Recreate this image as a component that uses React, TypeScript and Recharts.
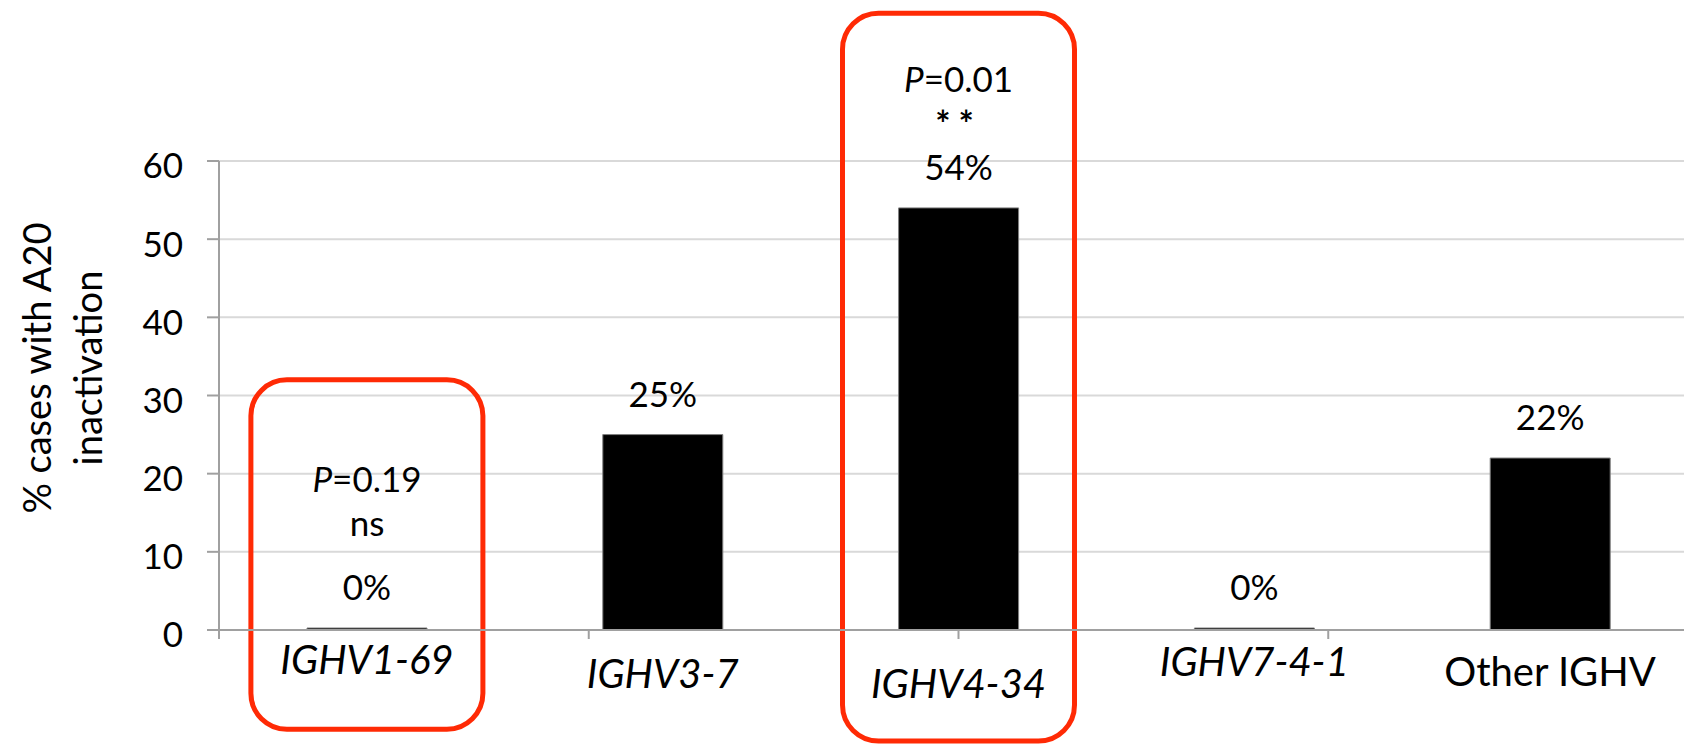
import { BarChart, Bar, XAxis, YAxis, CartesianGrid, LabelList, ReferenceArea } from 'recharts';

const categories = ['IGHV1-69', 'IGHV3-7', 'IGHV4-34', 'IGHV7-4-1', 'Other IGHV'];
const values = [0, 25, 54, 0, 22];
const pValues = ['0.19', '', '0.01', '', ''];
const significance = ['ns', '', '**', '', ''];
const yTicks = [0, 10, 20, 30, 40, 50, 60];
const boundaryTicks = [0, 1, 2, 3, 4, 5];
const highlighted = ['IGHV1-69', 'IGHV4-34'];

const data = categories.map((name, i) => ({ name, value: values[i] }));

// layout
const FONT = 'Lato, "Open Sans", sans-serif';
const AXIS = '#a0a0a0';
const RED = '#ff2a05';
const BOX_WIDTH = 232;
const TITLE_CY = 368;
const boxBottom = [-12.7, -14.2];
const boxTop = [32, 78.9];
const tickBaseline = [44, 58, 68, 46, 56];
const sigGap = [64, 0, 43, 0, 0];

function CategoryTick(props: any) {
  const { x, y, payload } = props;
  const name = payload.value as string;
  const i = categories.indexOf(name);
  return (
    <text
      x={x}
      y={y + tickBaseline[i]}
      textAnchor="middle"
      fontSize={40}
      fontFamily={FONT}
      fontStyle={name.startsWith('IGHV') ? 'italic' : 'normal'}
      fill="#000"
    >
      {name}
    </text>
  );
}

// value label, with the test result stacked above it where there is one
function ValueLabel(props: any) {
  const { x, y, width, index, value } = props;
  const cx = x + width / 2;
  const base = y - 28;
  const sig = significance[index];
  const stars = sig === '**';
  const sigY = base - sigGap[index];
  const pY = stars ? base - 88 : sigY - 44;
  return (
    <text x={cx} y={base} textAnchor="middle" fontSize={35} fontFamily={FONT} fill="#000">
      {pValues[index] && (
        <tspan x={cx} y={pY}>
          <tspan fontStyle="italic">P</tspan>={pValues[index]}
        </tspan>
      )}
      {sig && (
        <tspan
          x={cx}
          y={sigY}
          fontSize={stars ? 36 : 35}
          fontWeight={stars ? 'bold' : 'normal'}
          letterSpacing={stars ? 8 : 0}
        >
          {sig}
        </tspan>
      )}
      <tspan x={cx} y={base}>{`${value}%`}</tspan>
    </text>
  );
}

function HighlightBox(props: any) {
  const { x, y, width, height } = props;
  const cx = x + width / 2;
  return (
    <rect
      x={cx - BOX_WIDTH / 2}
      y={y}
      width={BOX_WIDTH}
      height={height}
      rx={36}
      ry={36}
      fill="none"
      stroke={RED}
      strokeWidth={5}
    />
  );
}

function YTitle() {
  const style = { fontSize: 38, fontFamily: FONT, fill: '#000', textAnchor: 'middle' as const };
  return (
    <g>
      <text {...style} x={51} y={TITLE_CY} transform={`rotate(-90, 51, ${TITLE_CY})`}>
        % cases with A20
      </text>
      <text {...style} x={102} y={TITLE_CY} transform={`rotate(-90, 102, ${TITLE_CY})`}>
        inactivation
      </text>
    </g>
  );
}

export default function App() {
  return (
    <div
      style={{
        position: 'fixed',
        left: 0,
        top: 0,
        width: 1684,
        height: 747,
        overflow: 'hidden',
        background: '#fff',
      }}
    >
      <BarChart width={1702} height={747} data={data} margin={{ top: 161, right: 4, bottom: 115, left: 0 }}>
        <CartesianGrid vertical={false} stroke="#d9d9d9" strokeWidth={2} />
        <XAxis
          dataKey="name"
          height={1}
          interval={0}
          tickSize={0}
          tickMargin={0}
          tickLine={false}
          axisLine={{ stroke: AXIS, strokeWidth: 2 }}
          tick={<CategoryTick />}
        />
        <XAxis
          xAxisId="bounds"
          type="number"
          domain={[0, 5]}
          ticks={boundaryTicks}
          interval={0}
          height={1}
          tickFormatter={() => ''}
          tickSize={8}
          tickLine={{ stroke: AXIS, strokeWidth: 2 }}
          axisLine={false}
        />
        <YAxis
          type="number"
          domain={[0, 60]}
          ticks={yTicks}
          interval={0}
          width={219}
          tickSize={12}
          tickMargin={24}
          axisLine={{ stroke: AXIS, strokeWidth: 2 }}
          tickLine={{ stroke: AXIS, strokeWidth: 2 }}
          tick={{ fill: '#000', fontSize: 35, fontFamily: FONT, dy: 5 }}
          label={{ content: <YTitle /> }}
        />
        {highlighted.map((name, i) => (
          <ReferenceArea
            key={name}
            x1={name}
            x2={name}
            y1={boxBottom[i]}
            y2={boxTop[i]}
            ifOverflow="visible"
            shape={<HighlightBox />}
          />
        ))}
        <Bar
          dataKey="value"
          fill="#000"
          stroke="#7f7f7f"
          strokeWidth={1}
          barSize={120}
          minPointSize={2}
          isAnimationActive={false}
        >
          <LabelList dataKey="value" content={<ValueLabel />} />
        </Bar>
      </BarChart>
    </div>
  );
}
